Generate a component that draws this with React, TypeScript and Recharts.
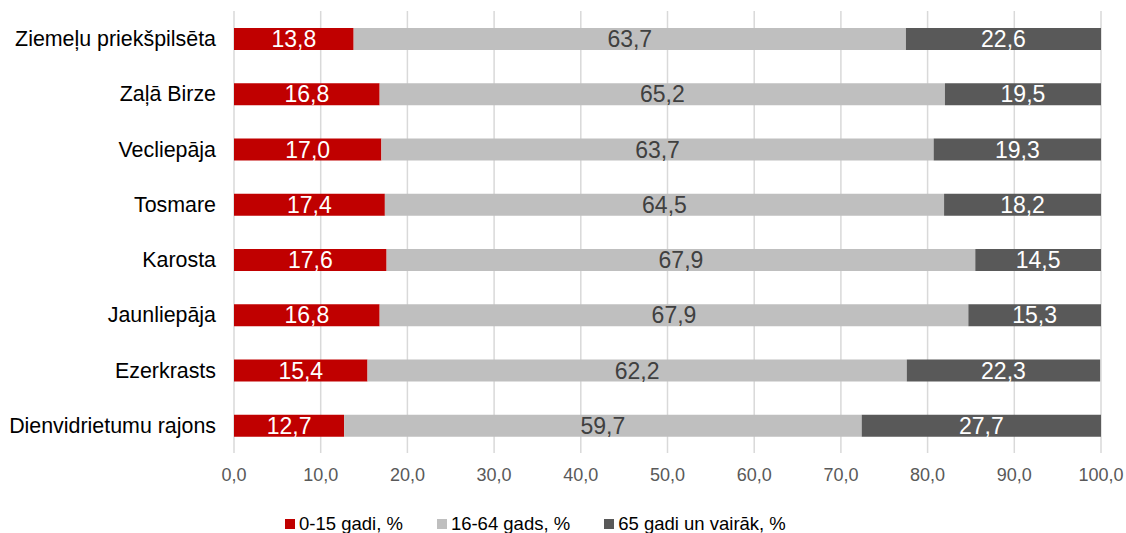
import React from 'react';
import { BarChart, Bar, XAxis, YAxis, CartesianGrid, LabelList, Legend } from 'recharts';

const categories = [
  'Ziemeļu priekšpilsēta',
  'Zaļā Birze',
  'Vecliepāja',
  'Tosmare',
  'Karosta',
  'Jaunliepāja',
  'Ezerkrasts',
  'Dienvidrietumu rajons',
];
const age0to15 = [13.8, 16.8, 17.0, 17.4, 17.6, 16.8, 15.4, 12.7];
const age16to64 = [63.7, 65.2, 63.7, 64.5, 67.9, 67.9, 62.2, 59.7];
const age65plus = [22.6, 19.5, 19.3, 18.2, 14.5, 15.3, 22.3, 27.7];
const xTicks = [0, 10, 20, 30, 40, 50, 60, 70, 80, 90, 100];
const seriesNames = ['0-15 gadi, %', '16-64 gads, %', '65 gadi un vairāk, %'];
const colors = ['#C00000', '#BFBFBF', '#595959'];

const data = categories.map((c, i) => ({
  name: c,
  a: age0to15[i],
  b: age16to64[i],
  c: age65plus[i],
}));

const fmt = (v: number) => v.toFixed(1).replace('.', ',');

const FONT = '"Liberation Sans", Arial, sans-serif';

const LegendContent = () => (
  <div
    style={{
      display: 'flex',
      justifyContent: 'flex-start',
      alignItems: 'center',
      height: 30,
      paddingTop: 11,
      paddingLeft: 285,
      boxSizing: 'border-box',
      fontFamily: FONT,
      fontSize: 18.5,
      color: '#000',
      whiteSpace: 'nowrap',
    }}
  >
    {seriesNames.map((n, i) => (
      <div key={n} style={{ display: 'flex', alignItems: 'center', marginRight: i < 2 ? 34 : 0 }}>
        <span style={{ display: 'inline-block', width: 10, height: 10, background: colors[i], marginRight: 4 }} />
        <span>{n}</span>
      </div>
    ))}
  </div>
);

export default function App() {
  return (
    <div style={{ position: 'absolute', left: 0, top: 0, width: 1126, height: 533, background: '#fff', fontFamily: FONT }}>
      <BarChart
        width={1126}
        height={533}
        data={data}
        layout="vertical"
        margin={{ top: 11, right: 25, bottom: 0, left: 0 }}
        barSize={22}
        style={{ fontFamily: FONT }}
      >
        <CartesianGrid horizontal={false} vertical={true} stroke="#D9D9D9" strokeWidth={1.5} />
        <XAxis
          type="number"
          domain={[0, 100]}
          ticks={xTicks}
          allowDataOverflow
          tickFormatter={fmt}
          axisLine={false}
          tickLine={false}
          tickMargin={9}
          height={50}
          tick={{ fill: '#595959', fontSize: 18 }}
        />
        <YAxis
          type="category"
          dataKey="name"
          width={234}
          axisLine={false}
          tickLine={false}
          tickMargin={12}
          tick={{ fill: '#000', fontSize: 21.4 }}
          interval={0}
        />
        <Legend verticalAlign="bottom" height={30} content={<LegendContent />} />
        <Bar dataKey="a" stackId="s" fill={colors[0]} isAnimationActive={false} name={seriesNames[0]}>
          <LabelList dataKey="a" position="center" formatter={fmt} fill="#FFFFFF" fontSize={23} />
        </Bar>
        <Bar dataKey="b" stackId="s" fill={colors[1]} isAnimationActive={false} name={seriesNames[1]}>
          <LabelList dataKey="b" position="center" formatter={fmt} fill="#404040" fontSize={23} />
        </Bar>
        <Bar dataKey="c" stackId="s" fill={colors[2]} isAnimationActive={false} name={seriesNames[2]}>
          <LabelList dataKey="c" position="center" formatter={fmt} fill="#FFFFFF" fontSize={23} />
        </Bar>
      </BarChart>
    </div>
  );
}
